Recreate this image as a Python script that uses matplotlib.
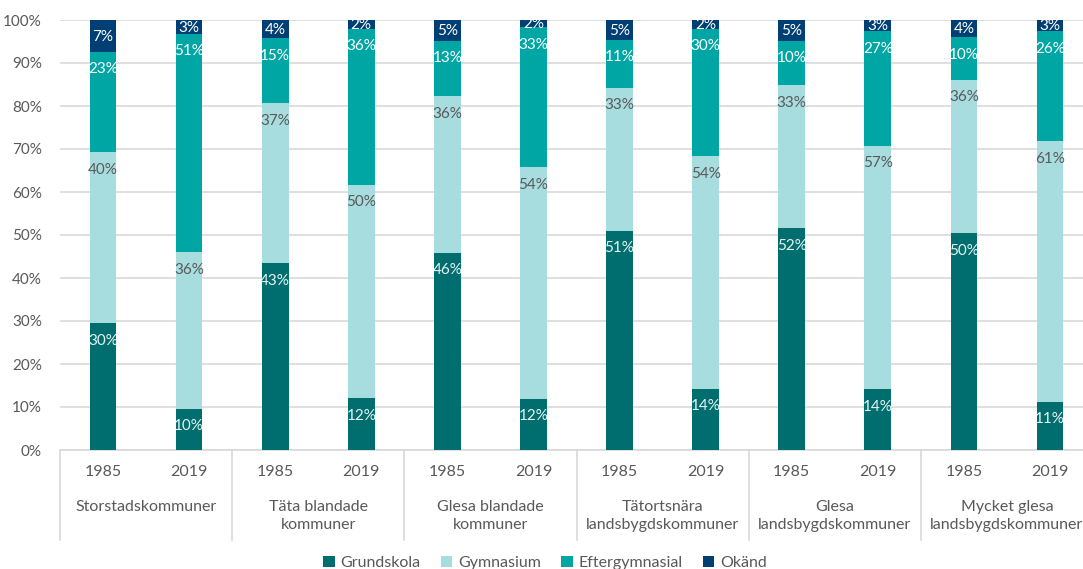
import matplotlib
matplotlib.use("Agg")
import matplotlib.pyplot as plt
import matplotlib.transforms as mtransforms
from matplotlib.lines import Line2D
import numpy as np

plt.rcParams['font.family'] = ['Lato', 'DejaVu Sans']

groups = ["Storstadskommuner", "Täta blandade\nkommuner", "Glesa blandade\nkommuner",
          "Tätortsnära\nlandsbygdskommuner", "Glesa\nlandsbygdskommuner",
          "Mycket glesa\nlandsbygdskommuner"]
years = ["1985", "2019"]

grundskola = [29.5, 9.6, 43.4, 12.1, 45.9, 11.9, 51.0, 14.3, 51.6, 14.2, 50.4, 11.2]
gymnasium = [39.8, 36.4, 37.2, 49.6, 36.4, 53.9, 33.3, 54.1, 33.3, 56.6, 35.7, 60.6]
eftergymnasial = [23.3, 50.8, 15.1, 36.3, 12.9, 32.6, 11.1, 29.6, 10.3, 26.6, 9.9, 25.6]
okand = [7.4, 3.2, 4.3, 2.0, 4.8, 1.6, 4.6, 2.0, 4.8, 2.6, 4.0, 2.6]

series = [("Grundskola", grundskola, "#006E6E", "#E8F4F4"),
          ("Gymnasium", gymnasium, "#A8DDE0", "#595959"),
          ("Eftergymnasial", eftergymnasial, "#00A6A4", "#FFFFFF"),
          ("Okänd", okand, "#003F73", "#FFFFFF")]

W, H = 1083, 569
fig = plt.figure(figsize=(W / 100, H / 100), dpi=100)
ax = fig.add_axes([60 / W, (H - 450) / H, (1093 - 60) / W, 430 / H])

n = len(grundskola)
x = np.arange(n)
bottom = np.zeros(n)
handles = []
for name, vals, col, tcol in series:
    vals = np.array(vals)
    b = ax.bar(x, vals, bottom=bottom, width=0.31, color=col, label=name, zorder=3)
    handles.append(b)
    tops = bottom + vals
    for xi, t, v in zip(x, tops, vals):
        off = min(4.1, v / 2 + 0.2)
        ax.text(xi, t - off, f"{round(v):.0f}%", ha="center", va="center",
                fontsize=11, color=tcol, zorder=4)
    bottom = tops

ax.set_xlim(-0.5, n - 0.5)
ax.set_ylim(0, 100)
ax.set_yticks(np.arange(0, 101, 10))
ax.set_yticklabels([f"{v}%" for v in range(0, 101, 10)], fontsize=11, color="#595959")
ax.yaxis.grid(True, color="#D9D9D9", linewidth=1.2, zorder=0)
ax.tick_params(axis="y", length=0, pad=13)
ax.tick_params(axis="x", length=0, labelbottom=False)
for s in ["top", "right", "left"]:
    ax.spines[s].set_visible(False)
ax.spines["bottom"].set_color("#D9D9D9")
ax.spines["bottom"].set_linewidth(1.2)

trans = mtransforms.blended_transform_factory(ax.transData, fig.transFigure)
ysep_bottom = (H - 540) / H
for gi in range(len(groups) + 1):
    xs = gi * 2 - 0.5
    ax.add_line(Line2D([xs, xs], [(H - 450) / H, ysep_bottom], transform=trans,
                       color="#D9D9D9", linewidth=1.2, clip_on=False))
for i in range(n):
    ax.text(i, (H - 472) / H, years[i % 2], transform=trans, ha="center", va="center",
            fontsize=11.5, color="#595959")
for gi, g in enumerate(groups):
    ax.text(gi * 2 + 0.5, (H - 500) / H, g, transform=trans, ha="center", va="top",
            fontsize=11.5, color="#595959", linespacing=1.4)

leg = fig.legend(handles=handles, loc="center", bbox_to_anchor=(545 / W, (H - 563) / H),
                 ncol=4, frameon=False, fontsize=11.5, handlelength=0.7, handleheight=0.7,
                 columnspacing=1.3, handletextpad=0.35)
for t in leg.get_texts():
    t.set_color("#595959")

fig.savefig("out.png", dpi=100)
